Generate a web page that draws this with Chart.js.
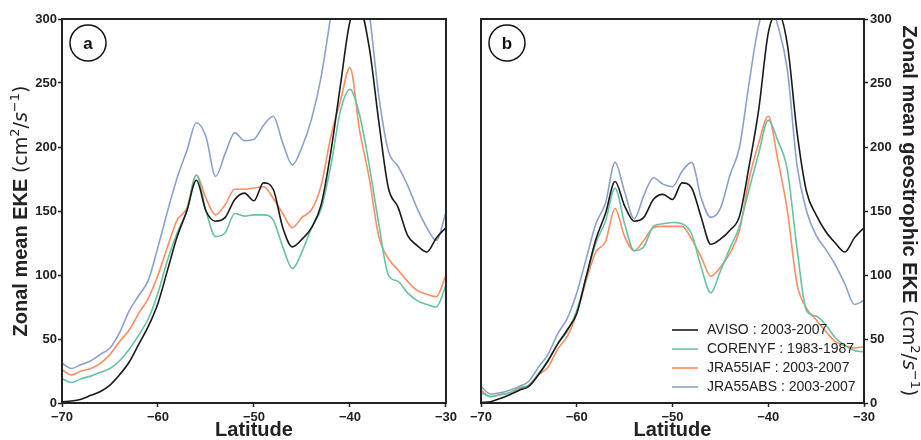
<!DOCTYPE html>
<html lang="en">
<head>
<meta charset="UTF-8">
<title>Zonal mean EKE</title>
<style>
  html, body { margin: 0; padding: 0; background: #fff; }
  body { width: 921px; height: 440px; position: relative; overflow: hidden; }
  .panel { position: absolute; top: 0; height: 440px; }
  #wrapA { left: 0; width: 460px; }
  #wrapB { left: 460px; width: 461px; }
</style>
<script src="https://cdn.jsdelivr.net/npm/chart.js"></script>
</head>
<body>
<div class="panel" id="wrapA"><canvas id="chartA" width="460" height="440"></canvas></div>
<div class="panel" id="wrapB"><canvas id="chartB" width="461" height="440"></canvas></div>
<script>
const latitude = [-70, -69, -68, -67, -66, -65, -64, -63, -62, -61,
                  -60, -59, -58, -57, -56, -55, -54, -53, -52, -51,
                  -50, -49, -48, -47, -46, -45, -44, -43, -42, -41,
                  -40, -39, -38, -37, -36, -35, -34, -33, -32, -31, -30];
const xTicks = [-70, -60, -50, -40, -30];
const yTicks = [0, 50, 100, 150, 200, 250, 300];
const seriesNames = ['AVISO : 2003-2007', 'CORENYF : 1983-1987', 'JRA55IAF : 2003-2007', 'JRA55ABS : 2003-2007'];
const seriesColors = ['#1a1a1a', '#66c2a5', '#fc8d62', '#8da0cb'];

// panel a : zonal mean EKE
const avisoA    = [1, 1.5, 3, 6, 9, 14, 22, 32, 46, 60,
                   78, 104, 130, 150, 174, 150, 142, 145, 159, 164,
                   158, 172, 167, 137, 122, 128, 137, 155, 196, 248,
                   298, 308, 278, 220, 168, 153, 131, 123, 118, 129, 137];
const corenyfA  = [19, 16, 19, 21, 24, 27, 33, 42, 53, 66,
                   86, 112, 133, 150, 178, 150, 130, 133, 148, 146,
                   147, 147, 143, 122, 105, 118, 137, 152, 185, 228,
                   245, 225, 186, 140, 100, 95, 86, 80, 77, 75, 92];
const jra55iafA = [26, 22, 25, 27, 31, 38, 48, 57, 70, 82,
                   100, 122, 143, 152, 178, 160, 147, 155, 167, 167,
                   168, 169, 160, 148, 137, 145, 151, 170, 208, 236,
                   262, 213, 176, 130, 113, 104, 95, 88, 85, 83, 100];
const jra55absA = [31, 27, 30, 33, 38, 43, 55, 72, 84, 96,
                   122, 150, 176, 197, 219, 208, 177, 195, 211, 205,
                   206, 217, 224, 203, 186, 200, 222, 255, 302, 345,
                   365, 345, 305, 240, 197, 185, 170, 152, 137, 127, 149];

// panel b : zonal mean geostrophic EKE
const avisoB    = [0.5, 1, 3.5, 6.5, 10, 13, 22, 33, 46, 57,
                   70, 99, 128, 148, 173, 154, 142, 145, 159, 163,
                   159, 172, 168, 145, 124, 128, 135, 146, 185, 229,
                   289, 305, 280, 212, 165, 147, 134, 125, 118, 129, 137];
const corenyfB  = [8, 5, 6.5, 8, 12, 14, 23, 33, 46, 56,
                   72, 99, 125, 142, 168, 140, 119, 122, 138, 140,
                   141, 140, 132, 106, 86, 103, 121, 138, 167, 195,
                   221, 205, 182, 121, 72, 68, 61, 51, 45, 41, 40];
const jra55iafB = [10, 5, 6.5, 8, 11, 14, 22, 28, 42, 52,
                   70, 96, 118, 126, 152, 130, 119, 127, 137, 138,
                   138, 138, 128, 114, 99, 106, 117, 135, 175, 203,
                   224, 190, 150, 93, 74, 65, 56, 48, 45, 43, 44];
const jra55absB = [13, 7, 8, 10, 13, 17, 28, 38, 54, 66,
                   86, 113, 140, 156, 188, 165, 144, 162, 176, 171,
                   169, 181, 188, 160, 145, 152, 178, 200, 250, 295,
                   315, 295, 260, 186, 150, 131, 120, 108, 93, 77, 80];

const INK = '#222';
const tickFont = { family: 'Liberation Sans', weight: 'bold', size: 13 };

function fmt(v) {
    return v < 0 ? '\u2212' + Math.abs(v) : String(v);
}

function makeDatasets(valueSets) {
    return valueSets.map((vals, i) => ({
        label: seriesNames[i],
        data: latitude.map((lat, j) => ({ x: lat, y: vals[j] })),
        borderColor: seriesColors[i],
        borderWidth: 1.6,
        pointRadius: 0,
        cubicInterpolationMode: 'monotone',
        clip: 0
    }));
}

function makeScales(side) {
    return {
        x: {
            type: 'linear', min: -70, max: -30,
            afterBuildTicks: s => { s.ticks = xTicks.map(v => ({ value: v })); },
            afterFit: s => { s.height = 37; },
            grid: { drawOnChartArea: false, tickLength: 4, tickColor: INK, tickWidth: 1.5 },
            border: { display: false },
            ticks: { font: tickFont, color: INK, padding: 3, maxRotation: 0, callback: v => fmt(v) }
        },
        y: {
            position: side, min: 0, max: 300,
            afterBuildTicks: s => { s.ticks = yTicks.map(v => ({ value: v })); },
            afterFit: s => { s.width = side === 'left' ? 62 : 57; },
            grid: { drawOnChartArea: false, tickLength: 4, tickColor: INK, tickWidth: 1.5 },
            border: { display: false },
            ticks: { font: tickFont, color: INK, padding: side === 'left' ? 1 : 2, callback: v => fmt(v) }
        }
    };
}

// y title with a bold part and a math part
function drawRichText(ctx, parts) {
    let total = 0;
    parts.forEach(p => { ctx.font = p.f; p.w = ctx.measureText(p.t).width; total += p.w; });
    let x = -total / 2;
    parts.forEach(p => {
        ctx.font = p.f;
        ctx.fillText(p.t, x, p.dy || 0);
        x += p.w;
    });
}

function titleParts(boldText) {
    return [
        { t: boldText + ' ', f: 'bold 20px "Liberation Sans"' },
        { t: '(cm', f: '19px "DejaVu Sans"' },
        { t: '2', f: '13px "DejaVu Sans"', dy: -8 },
        { t: '/', f: '19px "DejaVu Sans"' },
        { t: 's', f: 'italic 19px "DejaVu Sans"' },
        { t: '\u22121', f: '13px "DejaVu Sans"', dy: -8 },
        { t: ')', f: '19px "DejaVu Sans"' }
    ];
}

const decorations = {
    id: 'decorations',
    afterDraw(chart, args, opts) {
        const ctx = chart.ctx;
        const a = chart.chartArea;
        ctx.save();
        // frame
        ctx.strokeStyle = INK;
        ctx.lineWidth = 2;
        ctx.strokeRect(a.left, a.top, a.right - a.left, a.bottom - a.top);

        // panel letter in a circle
        const cx = a.left + 26, cy = a.top + 24;
        ctx.beginPath();
        ctx.arc(cx, cy, 18, 0, Math.PI * 2);
        ctx.lineWidth = 1.5;
        ctx.strokeStyle = '#111';
        ctx.stroke();
        ctx.fillStyle = '#111';
        ctx.font = 'bold 17px "Liberation Sans"';
        ctx.textAlign = 'center';
        ctx.textBaseline = 'middle';
        ctx.fillText(opts.letter, cx, cy + 1);

        // x title
        ctx.fillStyle = INK;
        ctx.font = 'bold 20px "Liberation Sans"';
        ctx.fillText('Latitude', (a.left + a.right) / 2, 430);

        // y title
        ctx.textAlign = 'left';
        ctx.textBaseline = 'alphabetic';
        ctx.save();
        ctx.translate(opts.titleX, (a.top + a.bottom) / 2);
        ctx.rotate(opts.titleRot);
        drawRichText(ctx, titleParts(opts.title));
        ctx.restore();

        // legend inside panel b
        if (opts.legend) {
            ctx.font = '14px "Liberation Sans"';
            ctx.textBaseline = 'middle';
            seriesNames.forEach((name, i) => {
                const y = 330 + i * 19;
                ctx.strokeStyle = seriesColors[i];
                ctx.lineWidth = 1.6;
                ctx.beginPath();
                ctx.moveTo(212, y);
                ctx.lineTo(238, y);
                ctx.stroke();
                ctx.fillStyle = INK;
                ctx.fillText(name, 247, y);
            });
        }
        ctx.restore();
    }
};

function makeChart(id, valueSets, side, padding, deco) {
    return new Chart(document.getElementById(id), {
        type: 'line',
        data: { datasets: makeDatasets(valueSets) },
        options: {
            responsive: false,
            animation: false,
            layout: { padding: padding },
            scales: makeScales(side),
            plugins: {
                legend: { display: false },
                tooltip: { enabled: false },
                decorations: deco
            }
        },
        plugins: [decorations]
    });
}

makeChart('chartA', [avisoA, corenyfA, jra55iafA, jra55absA], 'left',
    { top: 19, right: 14, left: 0, bottom: 0 },
    { letter: 'a', title: 'Zonal mean EKE', titleX: 27, titleRot: -Math.PI / 2, legend: false });

makeChart('chartB', [avisoB, corenyfB, jra55iafB, jra55absB], 'right',
    { top: 19, right: 0, left: 21, bottom: 0 },
    { letter: 'b', title: 'Zonal mean geostrophic EKE', titleX: 443, titleRot: Math.PI / 2, legend: true });
</script>
</body>
</html>
